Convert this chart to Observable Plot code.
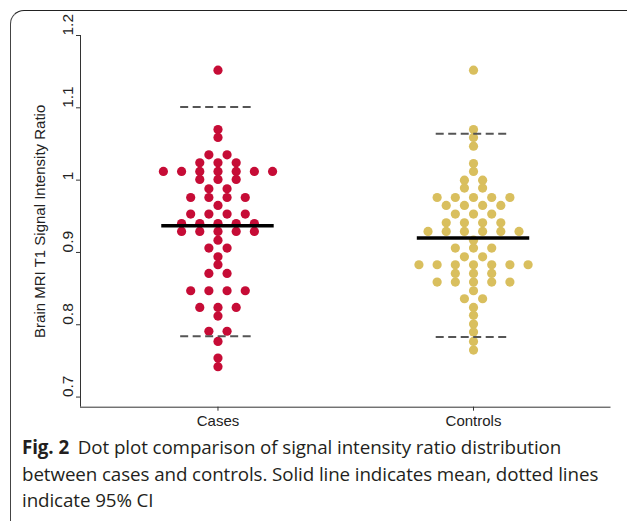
<!DOCTYPE html>
<html>
<head>
<meta charset="utf-8">
<script src="https://cdn.jsdelivr.net/npm/d3@7"></script>
<script src="https://cdn.jsdelivr.net/npm/@observablehq/plot@0.6"></script>
<style>
  html, body { margin: 0; padding: 0; background: #fff; width: 627px; height: 521px; overflow: hidden; }
  #frame { position: absolute; left: 10px; top: 10px; width: 700px; height: 600px;
           border-top: 1.5px solid #222; border-left: 1px solid #444; border-top-left-radius: 14px; box-sizing: border-box; }
  #chart { position: absolute; left: 0; top: 0; }
  #caption { position: absolute; left: 22px; top: 434px; font-family: "Open Sans", sans-serif;
             font-size: 18.8px; line-height: 26.5px; color: #231f20; white-space: nowrap; letter-spacing: -0.1px; }
  #caption b { font-weight: 700; margin-right: 4px; }
</style>
</head>
<body>
<div id="frame"></div>
<div id="chart"></div>
<div id="caption"><b>Fig. 2</b> Dot plot comparison of signal intensity ratio distribution<br>between cases and controls. Solid line indicates mean, dotted lines<br>indicate 95% CI</div>
<script>
const categories = ["Cases", "Controls"];
const casesValues = [
  1.152,
  1.070, 1.059,
  1.035, 1.035,
  1.024, 1.024, 1.024,
  1.012, 1.012, 1.012, 1.012, 1.012, 1.012, 1.012,
  1.001, 1.001, 1.001,
  0.988, 0.988,
  0.976, 0.976, 0.976, 0.976,
  0.965,
  0.953, 0.953, 0.953, 0.953,
  0.940, 0.940, 0.940, 0.940, 0.940,
  0.929, 0.929, 0.929, 0.929, 0.929,
  0.917,
  0.906, 0.906,
  0.894,
  0.883,
  0.871, 0.871,
  0.847, 0.847, 0.847, 0.847,
  0.824, 0.824, 0.824,
  0.812,
  0.791, 0.791,
  0.777,
  0.754,
  0.742
];
const controlsValues = [
  1.152,
  1.070, 1.059, 1.047,
  1.023, 1.012,
  1.000, 1.000,
  0.989, 0.989,
  0.976, 0.976, 0.976, 0.976, 0.976,
  0.965, 0.965, 0.965, 0.965,
  0.953, 0.953, 0.953,
  0.941, 0.941, 0.941, 0.941,
  0.929, 0.929, 0.929, 0.929, 0.929, 0.929,
  0.917,
  0.906, 0.906, 0.906,
  0.894, 0.894,
  0.883, 0.883, 0.883, 0.883, 0.883, 0.883, 0.883,
  0.871, 0.871, 0.871,
  0.859, 0.859, 0.859, 0.859, 0.859,
  0.847,
  0.836, 0.836,
  0.824, 0.813, 0.801, 0.790, 0.777, 0.765
];
const means = [0.937, 0.920];
const ciLower = [0.784, 0.783];
const ciUpper = [1.101, 1.064];
const yTicks = [0.7, 0.8, 0.9, 1.0, 1.1, 1.2];
const yTickLabels = ["0.7", "0.8", "0.9", "1", "1.1", "1.2"];
const colors = ["#c60c36", "#d9bf5e"];

// build dot table: dots sharing a value sit side by side, centred on the category
const dotStep = 0.0712;
const dots = [];
[casesValues, controlsValues].forEach((vals, ci) => {
  const groups = d3.group(vals, v => v);
  for (const [v, arr] of groups) {
    const n = arr.length;
    arr.forEach((_, j) => dots.push({cat: categories[ci], x: ci + 1 + (j - (n - 1) / 2) * dotStep, y: v}));
  }
});
const stats = categories.map((c, i) => ({cat: c, pos: i + 1, mean: means[i], lo: ciLower[i], hi: ciUpper[i]}));
const yLabelData = yTicks.map((v, i) => ({v, label: yTickLabels[i]}));

const plot = Plot.plot({
  width: 627,
  height: 440,
  marginLeft: 80,
  marginRight: 16.5,
  marginTop: 35,
  marginBottom: 33.3,
  style: {fontFamily: "'Liberation Sans', Arial, sans-serif", fontSize: "15px", color: "#222", background: "transparent"},
  x: {domain: [0.462, 2.538]},
  y: {domain: [0.686, 1.2]},
  color: {domain: categories, range: colors},
  marks: [
    Plot.axisX({ticks: [1, 2], tickFormat: d => categories[d - 1], tickSize: 4, tickPadding: 4, label: null, stroke: "#333", fontSize: 15}),
    Plot.ruleY([0.686], {stroke: "#333", strokeWidth: 1}),
    Plot.ruleX([0.462], {stroke: "#333", strokeWidth: 1}),
    Plot.axisY({ticks: yTicks, tickFormat: () => "", tickSize: 4,
                label: "Brain MRI T1 Signal Intensity Ratio", labelAnchor: "center", labelOffset: 46, labelArrow: "none", stroke: "#333", fontSize: 15}),
    Plot.text(yLabelData, {y: "v", text: "label", frameAnchor: "left", dx: -12, rotate: -90, fontSize: 15.5, fill: "#222"}),
    Plot.dot(dots, {x: "x", y: "y", r: 4.6, fill: "cat", stroke: null}),
    Plot.ruleY(stats, {y: "hi", x1: d => d.pos - 0.146, x2: d => d.pos + 0.146, stroke: "#555", strokeWidth: 2, strokeDasharray: "8,4.5"}),
    Plot.ruleY(stats, {y: "lo", x1: d => d.pos - 0.146, x2: d => d.pos + 0.146, stroke: "#555", strokeWidth: 2, strokeDasharray: "8,4.5"}),
    Plot.ruleY(stats, {y: "mean", x1: d => d.pos - 0.22, x2: d => d.pos + 0.22, stroke: "#000", strokeWidth: 3.6})
  ]
});
document.getElementById("chart").appendChild(plot);
</script>
</body>
</html>
